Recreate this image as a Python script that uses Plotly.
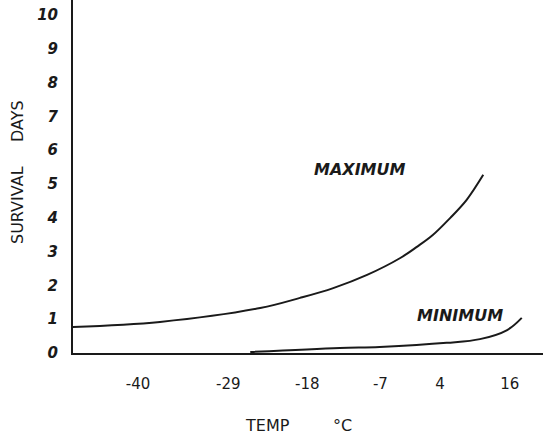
import plotly.graph_objects as go

# Axis tick labels (positions on the drawn, hand-spaced axis)
x_tick_pos = [-40, -26.4, -14.5, -3.5, 5.5, 16]
x_tick_text = ["-40", "-29", "-18", "-7", "4", "16"]
y_ticks = list(range(0, 11))

# Maximum survival curve (axis units, days)
max_x = [-49.8, -36.7, -21.6, -15.6, -10.6, -5.5, -0.5, 2.0, 4.4, 7.0, 9.5, 12.0]
max_y = [0.77, 0.92, 1.33, 1.63, 1.92, 2.31, 2.81, 3.14, 3.49, 3.99, 4.53, 5.27]

# Minimum survival curve
min_x = [-23.1, -9.6, -3.6, 6.5, 11.5, 15.6, 17.8]
min_y = [0.03, 0.15, 0.18, 0.30, 0.41, 0.68, 1.04]

ink = "#1a1a1a"
fig = go.Figure()
fig.add_trace(go.Scatter(x=max_x, y=max_y, mode="lines",
                         line=dict(color=ink, width=2, shape="spline", smoothing=1.0),
                         hoverinfo="skip", showlegend=False))
fig.add_trace(go.Scatter(x=min_x, y=min_y, mode="lines",
                         line=dict(color=ink, width=2, shape="spline", smoothing=1.0),
                         hoverinfo="skip", showlegend=False))

fig.update_layout(
    width=543, height=439,
    margin=dict(l=73, r=0, t=0, b=86),
    paper_bgcolor="white", plot_bgcolor="white",
    font=dict(family="DejaVu Sans", color=ink),
    xaxis=dict(range=[-49.8, 21.0], tickvals=x_tick_pos, ticktext=x_tick_text,
               showgrid=False, zeroline=False, showline=True, linecolor=ink, linewidth=2,
               ticks="", ticklabelstandoff=16,
               tickfont=dict(family="DejaVu Sans", size=15, color=ink)),
    yaxis=dict(range=[0, 10.44], tickvals=y_ticks,
               showgrid=False, zeroline=False, showline=True, linecolor=ink, linewidth=2,
               ticks="", ticklabelstandoff=10,
               tickfont=dict(family="DejaVu Sans", size=15, color=ink, weight="bold", style="italic")),
    annotations=[
        dict(text="MAXIMUM", x=-6.6, y=5.44, xref="x", yref="y", showarrow=False,
             font=dict(family="DejaVu Sans", size=16, weight="bold", style="italic", color=ink)),
        dict(text="MINIMUM", x=8.5, y=1.12, xref="x", yref="y", showarrow=False,
             font=dict(family="DejaVu Sans", size=16, weight="bold", style="italic", color=ink)),
        dict(text="TEMP", x=(267 - 73) / 470, y=0, xref="paper", yref="paper", yshift=-72,
             xanchor="center", yanchor="middle",
             showarrow=False, font=dict(family="DejaVu Sans", size=16, color=ink)),
        dict(text="°C", x=(342 - 73) / 470, y=0, xref="paper", yref="paper", yshift=-72,
             xanchor="center", yanchor="middle",
             showarrow=False, font=dict(family="DejaVu Sans", size=16, color=ink)),
        dict(text="DAYS", x=0, y=(353 - 121) / 353, xref="paper", yref="paper", xshift=-55,
             xanchor="center", yanchor="middle",
             textangle=-90, showarrow=False, font=dict(family="DejaVu Sans", size=16, color=ink)),
        dict(text="SURVIVAL", x=0, y=(353 - 205) / 353, xref="paper", yref="paper", xshift=-55,
             xanchor="center", yanchor="middle",
             textangle=-90, showarrow=False, font=dict(family="DejaVu Sans", size=16, color=ink)),
    ],
)

fig.write_html("out.html")
